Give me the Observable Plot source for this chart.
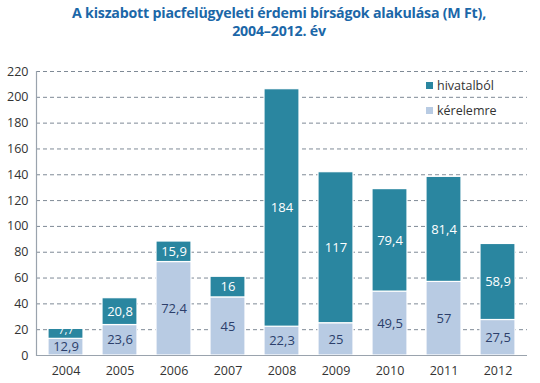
<!DOCTYPE html>
<html>
<head>
<meta charset="utf-8">
<script src="https://cdn.jsdelivr.net/npm/d3@7"></script>
<script src="https://cdn.jsdelivr.net/npm/@observablehq/plot@0.6"></script>
<style>
  html, body { margin: 0; padding: 0; background: #fff; }
  #wrap { position: relative; width: 540px; height: 383px; font-family: "Open Sans", sans-serif; }
  #title { height: 45px; text-align: center; color: #1b67a8; font-weight: bold; font-size: 14.2px; line-height: 18px; padding-top: 4px; box-sizing: border-box; padding-left: 18px; letter-spacing: -0.2px; }
  #legend { position: absolute; left: 426px; top: 73px; font-size: 12.5px; color: #333; }
  #legend div { height: 25px; display: flex; align-items: center; }
  #legend span.sw { display: inline-block; width: 7px; height: 7px; margin-right: 4px; }
</style>
</head>
<body>
<div id="wrap">
  <div id="title">A kiszabott piacfelügyeleti érdemi bírságok alakulása (M Ft),<br>2004–2012. év</div>
  <div id="chart"></div>
  <div id="legend"></div>
</div>
<script>
const years = ["2004","2005","2006","2007","2008","2009","2010","2011","2012"];
const kerelemre = [12.9, 23.6, 72.4, 45, 22.3, 25, 49.5, 57, 27.5];
const hivatalbol = [7.7, 20.8, 15.9, 16, 184, 117, 79.4, 81.4, 58.9];
const seriesNames = ["hivatalból", "kérelemre"];
const seriesColors = ["#2a86a0", "#b8cbe3"];
const yTicks = [0, 20, 40, 60, 80, 100, 120, 140, 160, 180, 200, 220];

const fmt = v => String(v).replace(".", ",");

const data = years.flatMap((year, i) => [
  {year, type: "kérelemre", value: kerelemre[i], mid: kerelemre[i] / 2},
  {year, type: "hivatalból", value: hivatalbol[i], mid: kerelemre[i] + hivatalbol[i] / 2}
]);

const chart = Plot.plot({
  width: 540,
  height: 338,
  marginTop: 26,
  marginBottom: 28,
  marginLeft: 36,
  marginRight: 13,
  style: {fontFamily: "Open Sans, sans-serif", fontSize: "12.5px", color: "#333", background: "white"},
  x: {domain: years, paddingInner: 0.36, paddingOuter: 0.15, label: null, tickSize: 0, tickPadding: 11},
  y: {domain: [0, 220], ticks: yTicks, label: null, tickSize: 0, tickPadding: 8, tickFormat: d => d},
  color: {domain: seriesNames, range: seriesColors},
  marks: [
    Plot.ruleY(yTicks.filter(d => d > 0), {stroke: "#7f8a96", strokeDasharray: "4,3", strokeWidth: 1}),
    Plot.barY(data, Plot.stackY({x: "year", y: "value", fill: "type", order: ["kérelemre", "hivatalból"], stroke: "white", strokeWidth: 1.2})),
    Plot.text(data.filter(d => d.value >= 10), {x: "year", y: "mid", text: d => fmt(d.value), fill: d => d.type === "kérelemre" ? "#2c3f6b" : "white", fontSize: 13}),
    Plot.text(data.filter(d => d.value < 10), {x: "year", y: "mid", text: d => fmt(d.value), fill: "white", fontSize: 11, dy: -3}),
    Plot.ruleY([0], {stroke: "#9aa3ad", strokeWidth: 1.2}),
    Plot.frame({anchor: "left", stroke: "#9aa3ad", strokeWidth: 1.2})
  ]
});
document.getElementById("chart").appendChild(chart);

const legend = document.getElementById("legend");
seriesNames.forEach((name, i) => {
  const row = document.createElement("div");
  row.innerHTML = `<span class="sw" style="background:${seriesColors[i]}"></span>${name}`;
  legend.appendChild(row);
});
</script>
</body>
</html>
